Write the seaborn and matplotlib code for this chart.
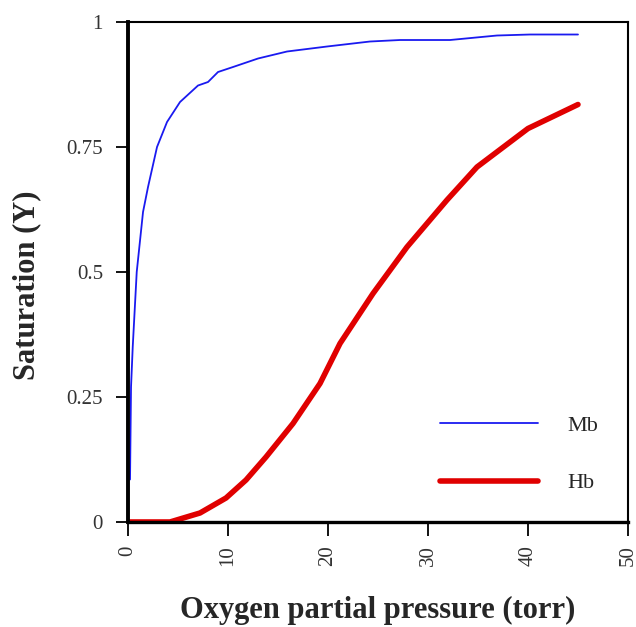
import numpy as np
import pandas as pd
import matplotlib
matplotlib.use("Agg")
import matplotlib.pyplot as plt
import seaborn as sns

# values
mb_p = [0.2, 0.3, 0.47, 0.87, 1.5, 2.0, 2.9, 3.9, 5.2, 7.0, 8.0, 9.0, 10.5,
        13.0, 15.9, 19.9, 24.2, 27.2, 32.2, 36.9, 40.2, 45.0]
mb_y = [0.085, 0.27, 0.35, 0.50, 0.62, 0.67, 0.75, 0.80, 0.84, 0.873, 0.88,
        0.90, 0.91, 0.927, 0.941, 0.951, 0.961, 0.964, 0.964, 0.973, 0.975, 0.975]

hb_p = [0.0, 4.2, 7.2, 9.8, 11.8, 13.8, 16.5, 19.2, 21.2, 24.5, 27.9,
        31.9, 34.9, 40.0, 45.0]
hb_y = [0.0, 0.0, 0.018, 0.048, 0.084, 0.13, 0.197, 0.277, 0.357, 0.457,
        0.55, 0.644, 0.71, 0.787, 0.835]

yticks = [0, 0.25, 0.5, 0.75, 1]
yticklabels = ["0", "0.25", "0.5", "0.75", "1"]
xticks = [0, 10, 20, 30, 40, 50]

df = pd.concat([
    pd.DataFrame({"p": mb_p, "y": mb_y, "protein": "Mb"}),
    pd.DataFrame({"p": hb_p, "y": hb_y, "protein": "Hb"}),
])

sns.set_style("ticks")
plt.rcParams["font.family"] = ["Liberation Serif", "DejaVu Serif"]

fig = plt.figure(figsize=(6.36, 6.27), dpi=100)
ax = fig.add_axes([0.2013, 0.1675, 0.7861, 0.7974])

sns.lineplot(data=df[df.protein == "Mb"], x="p", y="y", color="#1a1af0",
             linewidth=1.3, label="Mb", ax=ax, sort=False)
sns.lineplot(data=df[df.protein == "Hb"], x="p", y="y", color="#e00000",
             linewidth=4.0, label="Hb", ax=ax, sort=False)

ax.set_xlim(0, 50)
ax.set_ylim(0, 1)
ax.set_xticks(xticks)
ax.set_xticklabels([str(t) for t in xticks], rotation=90)
ax.set_yticks(yticks)
ax.set_yticklabels(yticklabels)
ax.tick_params(direction="out", width=1.3, colors="black",
               labelsize=15, labelcolor="#333333")
ax.tick_params(axis="y", length=9, pad=9)
ax.tick_params(axis="x", length=10, pad=7)

for side in ["top", "right", "bottom", "left"]:
    ax.spines[side].set_visible(True)
    ax.spines[side].set_color("black")
    ax.spines[side].set_linewidth(1.5)
ax.spines["left"].set_linewidth(2.8)
ax.spines["bottom"].set_linewidth(2.4)

ax.set_xlabel("Oxygen partial pressure (torr)", fontsize=22,
              fontweight="bold", labelpad=21)
ax.set_ylabel("Saturation (Y)", fontsize=22, fontweight="bold")
ax.yaxis.set_label_coords(-0.174, 0.474)

ax.legend(loc="lower right", bbox_to_anchor=(1.012, -0.014), frameon=False,
          fontsize=16, handlelength=4.4, handletextpad=1.35, labelspacing=1.68,
          borderaxespad=1.2)

fig.savefig("out.png", dpi=100)
